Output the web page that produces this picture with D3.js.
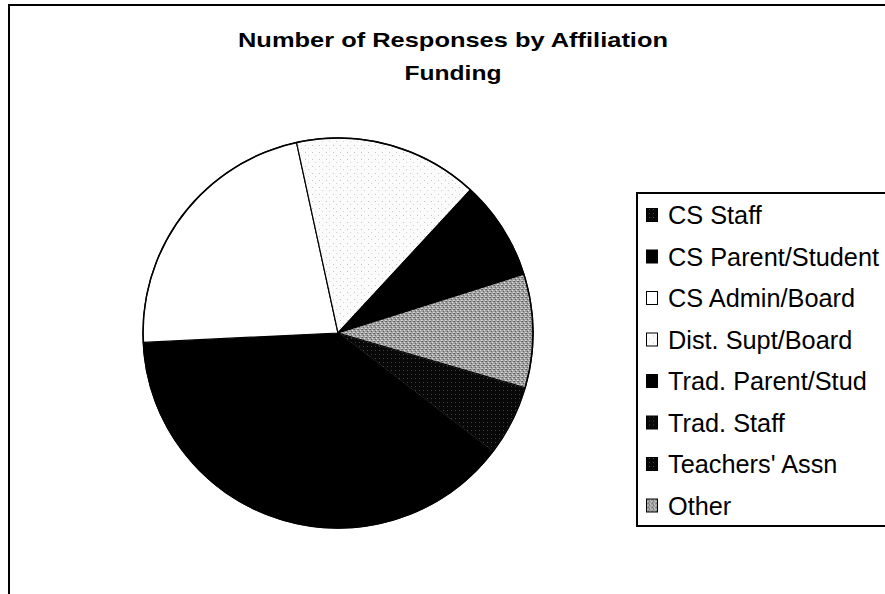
<!DOCTYPE html>
<html><head><meta charset="utf-8">
<script src="https://cdn.jsdelivr.net/npm/d3@7/dist/d3.min.js"></script>
<style>body{margin:0;background:#fff}svg{display:block}</style>
</head><body><svg id="c" width="885" height="594"></svg>
<script>
const categories = ["CS Staff","CS Parent/Student","CS Admin/Board","Dist. Supt/Board","Trad. Parent/Stud","Trad. Staff","Teachers' Assn","Other"];
const values = [5,33,19,13,7,0,0,8];
const titleLines = ["Number of Responses by Affiliation","Funding"];
const fills = ["url(#pDark)","#000","#fff","url(#pLight)","#000","url(#pDark)","url(#pDark)","url(#pGray)"];

const svg = d3.select("#c");
const defs = svg.append("defs");

// patterns
const pDark = defs.append("pattern").attr("id","pDark").attr("patternUnits","userSpaceOnUse").attr("width",4).attr("height",4);
pDark.append("rect").attr("width",4).attr("height",4).attr("fill","#080808");
pDark.append("rect").attr("x",1).attr("y",1).attr("width",1).attr("height",1).attr("fill","#444");
const pLight = defs.append("pattern").attr("id","pLight").attr("patternUnits","userSpaceOnUse").attr("width",7).attr("height",7);
pLight.append("rect").attr("width",7).attr("height",7).attr("fill","#fbfbfb");
pLight.append("rect").attr("x",2).attr("y",1).attr("width",1).attr("height",1).attr("fill","#c4c4c4");
pLight.append("rect").attr("x",5).attr("y",4).attr("width",1).attr("height",1).attr("fill","#d2d2d2");
const pGray = defs.append("pattern").attr("id","pGray").attr("patternUnits","userSpaceOnUse").attr("width",4).attr("height",4);
pGray.append("rect").attr("width",4).attr("height",4).attr("fill","#a0a0a0");
[[0,0,"#555"],[2,1,"#e0e0e0"],[1,2,"#666"],[3,3,"#d8d8d8"],[3,0,"#7a7a7a"],[0,3,"#c8c8c8"]].forEach(([x,y,c])=>
  pGray.append("rect").attr("x",x).attr("y",y).attr("width",1).attr("height",1).attr("fill",c));

// outer frame
svg.append("rect").attr("x",9).attr("y",5).attr("width",900).attr("height",620)
  .attr("fill","none").attr("stroke","#000").attr("stroke-width",2);

// title
const title = svg.append("g").attr("font-family","'Liberation Sans', Arial, sans-serif").attr("font-weight","bold").attr("font-size",21).attr("text-anchor","middle");
const titleY = [46.5, 80];
const titleW = [430, 97];
titleLines.forEach((t,i)=>{
  title.append("text").attr("x",453).attr("y",titleY[i]).attr("textLength",titleW[i]).attr("lengthAdjust","spacingAndGlyphs").text(t);
});

// pie
const cx = 338, cy = 333, r = 195;
const start = 106.3*Math.PI/180;
const pie = d3.pie().sort(null).value(d=>d.v).startAngle(start).endAngle(start+2*Math.PI);
const arc = d3.arc().innerRadius(0).outerRadius(r);
const data = pie(categories.map((c,i)=>({c, v: values[i], f: fills[i]})));
const g = svg.append("g").attr("transform",`translate(${cx},${cy})`);
g.selectAll("path").data(data.filter(d=>d.data.v>0)).join("path")
  .attr("d",arc).attr("fill",d=>d.data.f)
  .attr("stroke",d=>d.data.c==="CS Staff"?"#777":"#000").attr("stroke-width",1.2).attr("stroke-linejoin","round");
g.append("circle").attr("r",r).attr("fill","none").attr("stroke","#000").attr("stroke-width",1.5);

// legend
const lg = svg.append("g");
lg.append("rect").attr("x",637).attr("y",193).attr("width",300).attr("height",333)
  .attr("fill","#fff").attr("stroke","#000").attr("stroke-width",2);
const items = lg.selectAll("g.item").data(categories).join("g").attr("class","item")
  .attr("transform",(d,i)=>`translate(0,${224+41.5*i})`);
items.append("rect").attr("x",646.5).attr("y",-15.5).attr("width",11).attr("height",13)
  .attr("fill",(d,i)=>fills[i]).attr("stroke","#000").attr("stroke-width",1);
const texts = items.append("text").attr("x",668).attr("y",0)
  .attr("font-family","'Liberation Sans', Arial, sans-serif").attr("font-size",25).attr("fill","#000")
  .text(d=>d);
const longest = texts.filter(d=>d==="CS Parent/Student").node().getComputedTextLength();
const ratio = 211/longest;
texts.each(function(){ const w=this.getComputedTextLength(); d3.select(this).attr("textLength",w*ratio).attr("lengthAdjust","spacingAndGlyphs"); });
</script></body></html>
